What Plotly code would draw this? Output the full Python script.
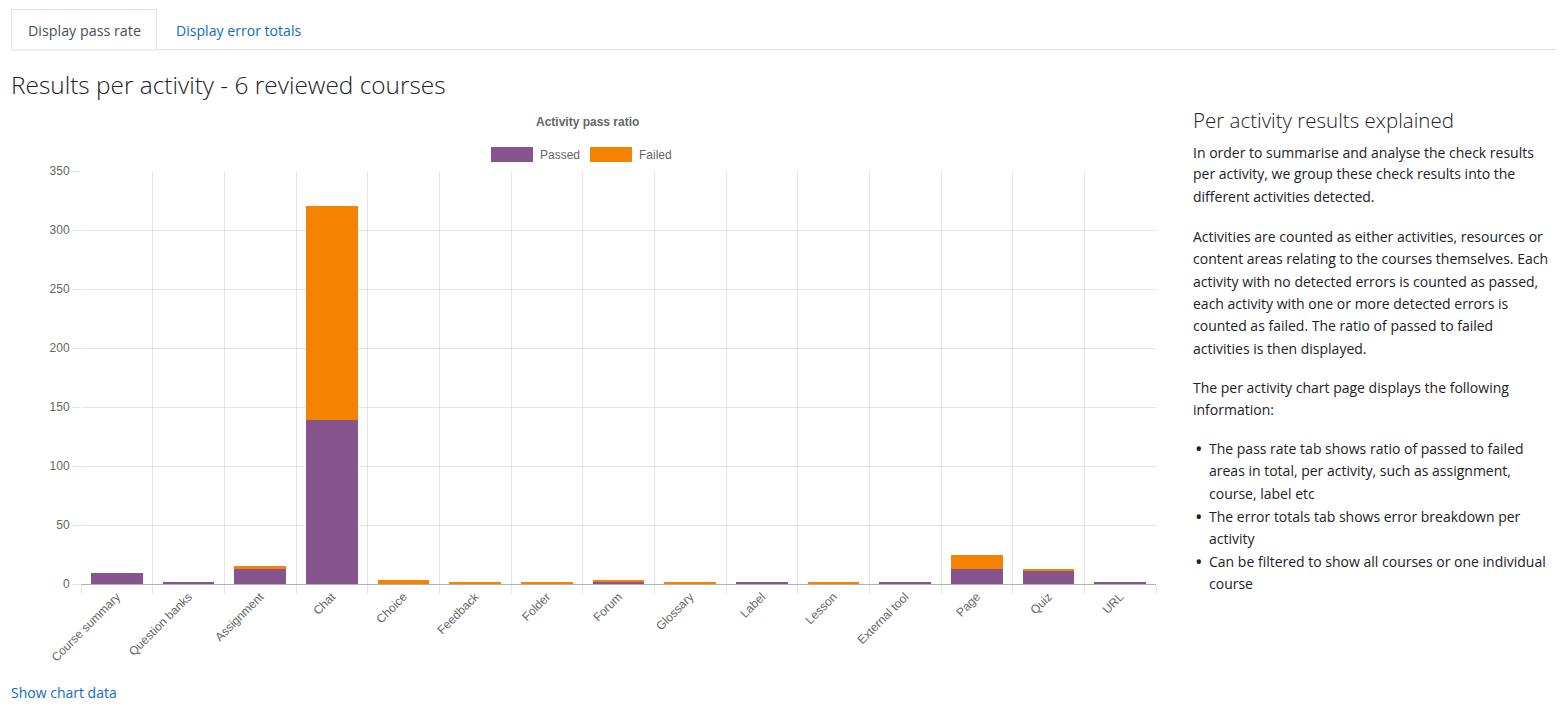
import plotly.graph_objects as go

categories = ["Course summary", "Question banks", "Assignment", "Chat", "Choice", "Feedback",
              "Folder", "Forum", "Glossary", "Label", "Lesson", "External tool", "Page", "Quiz", "URL"]
passed = [9, 1, 13, 139, 0, 0, 0, 2, 0, 1, 0, 1, 13, 11, 2]
failed = [0, 0, 2, 181, 3, 1, 1, 1, 2, 0, 2, 0, 12, 2, 0]
y_ticks = [0, 50, 100, 150, 200, 250, 300, 350]

PURPLE = "#88548f"
ORANGE = "#f38300"
TEXT = "#1d2125"
LINK = "#0f6cbf"
PAGE_FONT = "Open Sans"
CHART_FONT = "Liberation Sans"

W, H = 1568, 709
L, R, T, B = 81, 1156, 171, 584


def px(x):
    return (x - L) / (R - L)


def py(y):
    return (B - y) / (B - T)


xs = list(range(len(categories)))
fig = go.Figure()
fig.add_trace(go.Bar(x=xs, y=passed, name="Passed", marker=dict(color=PURPLE, line=dict(width=0)),
                     hoverinfo="x+y"))
fig.add_trace(go.Bar(x=xs, y=failed, name="Failed", marker=dict(color=ORANGE, line=dict(width=0)),
                     hoverinfo="x+y"))

shapes = []
annotations = []

# tabs
shapes.append(dict(type="line", xref="paper", yref="paper", x0=px(156), x1=px(1557), y0=py(49.5), y1=py(49.5),
                   line=dict(color="#dee2e6", width=1)))
shapes.append(dict(type="rect", xref="paper", yref="paper", x0=px(11.5), x1=px(156.5), y0=py(9.5), y1=py(50),
                   line=dict(color="#dee2e6", width=1), fillcolor="white"))
annotations.append(dict(text="Display pass rate", x=px(84), y=py(30), xanchor="center", yanchor="middle",
                        font=dict(family=PAGE_FONT, size=14.3, color="#495057")))
annotations.append(dict(text="Display error totals", x=px(174), y=py(30), xanchor="left", yanchor="middle",
                        font=dict(family=PAGE_FONT, size=14.1, color=LINK)))

# main heading
annotations.append(dict(text="Results per activity - 6 reviewed courses", x=px(9), y=py(84), xanchor="left",
                        yanchor="middle", font=dict(family=PAGE_FONT, size=24.4, color=TEXT, weight=300)))

# chart title
annotations.append(dict(text="<b>Activity pass ratio</b>", x=px(587), y=py(122), xanchor="center",
                        yanchor="middle", font=dict(family=CHART_FONT, size=12, color="#666666")))

# legend
shapes.append(dict(type="rect", xref="paper", yref="paper", x0=px(491), x1=px(533), y0=py(147), y1=py(162),
                   line=dict(width=0), fillcolor=PURPLE))
annotations.append(dict(text="Passed", x=px(538), y=py(155), xanchor="left", yanchor="middle",
                        font=dict(family=CHART_FONT, size=12, color="#666666")))
shapes.append(dict(type="rect", xref="paper", yref="paper", x0=px(590), x1=px(632), y0=py(147), y1=py(162),
                   line=dict(width=0), fillcolor=ORANGE))
annotations.append(dict(text="Failed", x=px(637), y=py(155), xanchor="left", yanchor="middle",
                        font=dict(family=CHART_FONT, size=12, color="#666666")))

# show chart data link
annotations.append(dict(text="Show chart data", x=px(9), y=py(692), xanchor="left", yanchor="middle",
                        font=dict(family=PAGE_FONT, size=14, color=LINK)))

# right side text
annotations.append(dict(text="Per activity results explained", x=px(1191), y=py(120), xanchor="left",
                        yanchor="middle", font=dict(family=PAGE_FONT, size=20.5, color=TEXT, weight=300)))
lines = [
    (152, "In order to summarise and analyse the check results", False),
    (174, "per activity, we group these check results into the", False),
    (196, "different activities detected.", False),
    (236, "Activities are counted as either activities, resources or", False),
    (258, "content areas relating to the courses themselves. Each", False),
    (281, "activity with no detected errors is counted as passed,", False),
    (303, "each activity with one or more detected errors is", False),
    (325, "counted as failed. The ratio of passed to failed", False),
    (348, "activities is then displayed.", False),
    (387, "The per activity chart page displays the following", False),
    (409, "information:", False),
    (448, "The pass rate tab shows ratio of passed to failed", True),
    (470, "areas in total, per activity, such as assignment,", None),
    (493, "course, label etc", None),
    (516, "The error totals tab shows error breakdown per", True),
    (538, "activity", None),
    (561, "Can be filtered to show all courses or one individual", True),
    (583, "course", None),
]
for yy, txt, bullet in lines:
    x0 = 1191 if bullet is False else 1207
    annotations.append(dict(text=txt, x=px(x0), y=py(yy), xanchor="left", yanchor="middle",
                            font=dict(family=PAGE_FONT, size=14, color=TEXT)))
    if bullet:
        annotations.append(dict(text="•", x=px(1193), y=py(yy), xanchor="left", yanchor="middle",
                                font=dict(family=PAGE_FONT, size=20, color=TEXT)))

for a in annotations:
    a.update(xref="paper", yref="paper", showarrow=False)

fig.update_layout(
    width=W, height=H,
    margin=dict(l=L, r=W - R, t=T, b=H - B, pad=0),
    paper_bgcolor="white", plot_bgcolor="white",
    barmode="stack", bargap=0.28,
    showlegend=False,
    shapes=shapes, annotations=annotations,
    xaxis=dict(
        range=[-0.5, len(categories) - 0.5], tickmode="array", tickvals=xs, ticktext=categories,
        tickangle=-45, showgrid=False, ticks="", zeroline=False,
        showline=True, linecolor="rgba(0,0,0,0.3)", linewidth=1,
        tickfont=dict(family=CHART_FONT, size=12, color="#666666"),
        minor=dict(tick0=-0.5, dtick=1, showgrid=True, gridcolor="rgba(0,0,0,0.1)", gridwidth=1,
                   ticks="outside", ticklen=9, tickcolor="rgba(0,0,0,0.1)"),
        fixedrange=True,
    ),
    yaxis=dict(
        range=[0, 350], tickmode="array", tickvals=y_ticks, showgrid=True, gridcolor="rgba(0,0,0,0.1)",
        zeroline=False, ticks="outside", ticklen=8, tickcolor="rgba(0,0,0,0.1)",
        tickfont=dict(family=CHART_FONT, size=12, color="#666666"), fixedrange=True,
    ),
)

fig.write_html("out.html", config={"displayModeBar": False})
